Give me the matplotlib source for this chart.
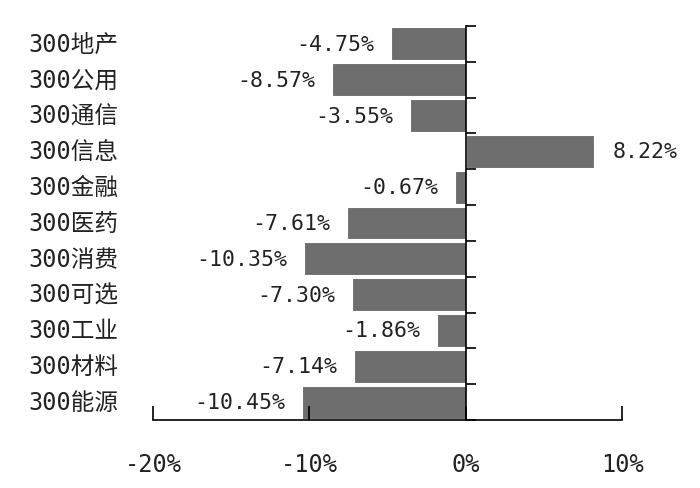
import matplotlib
matplotlib.use('Agg')
import matplotlib.pyplot as plt
import matplotlib.transforms as mtransforms
import numpy as np

plt.rcParams['font.family'] = ['DejaVu Sans Mono', 'Noto Sans CJK SC']

sectors = ['300地产', '300公用', '300通信', '300信息', '300金融', '300医药',
           '300消费', '300可选', '300工业', '300材料', '300能源']
returns = [-4.75, -8.57, -3.55, 8.22, -0.67, -7.61, -10.35, -7.30, -1.86, -7.14, -10.45]
xticks = [-20, -10, 0, 10]

fig = plt.figure(figsize=(7, 4.89), dpi=100)
ax = fig.add_axes([153 / 700, 1 - 421 / 489, (622 - 153) / 700, (421 - 27) / 489])

y = np.arange(len(sectors))
ax.barh(y, returns, height=0.92, color='#6e6e6e', edgecolor='white', linewidth=0.8)
ax.set_ylim(len(sectors) - 0.5, -0.5)
ax.set_xlim(-20, 10)

# value labels
for yi, v in zip(y, returns):
    if v < 0:
        ax.annotate('%.2f%%' % v, (v, yi), xytext=(-12, 0), textcoords='offset points',
                    ha='right', va='center', fontsize=15.5, color='#222222')
    else:
        ax.annotate('%.2f%%' % v, (v, yi), xytext=(13, 0), textcoords='offset points',
                    ha='left', va='center', fontsize=15.5, color='#222222')

# category labels on the left edge of the figure
trans = mtransforms.blended_transform_factory(fig.transFigure, ax.transData)
for yi, name in zip(y, sectors):
    ax.text(28 / 700, yi, name, transform=trans, ha='left', va='center',
            fontsize=17, color='#222222')

# axes styling
for s in ['top', 'right']:
    ax.spines[s].set_visible(False)
ax.spines['left'].set_position(('data', 0))
ax.spines['bottom'].set_linewidth(1.2)
ax.spines['left'].set_linewidth(1.2)

ax.set_yticks(np.arange(-0.5, len(sectors), 1))
ax.set_yticklabels([])
ax.tick_params(axis='y', direction='in', length=7, width=1.2)

ax.set_xticks(xticks)
ax.set_xticklabels(['%d%%' % t for t in xticks])
ax.tick_params(axis='x', direction='in', length=10, width=1.2, pad=23,
               labelsize=17, labelcolor='#222222')

fig.savefig('out.png', dpi=100)
